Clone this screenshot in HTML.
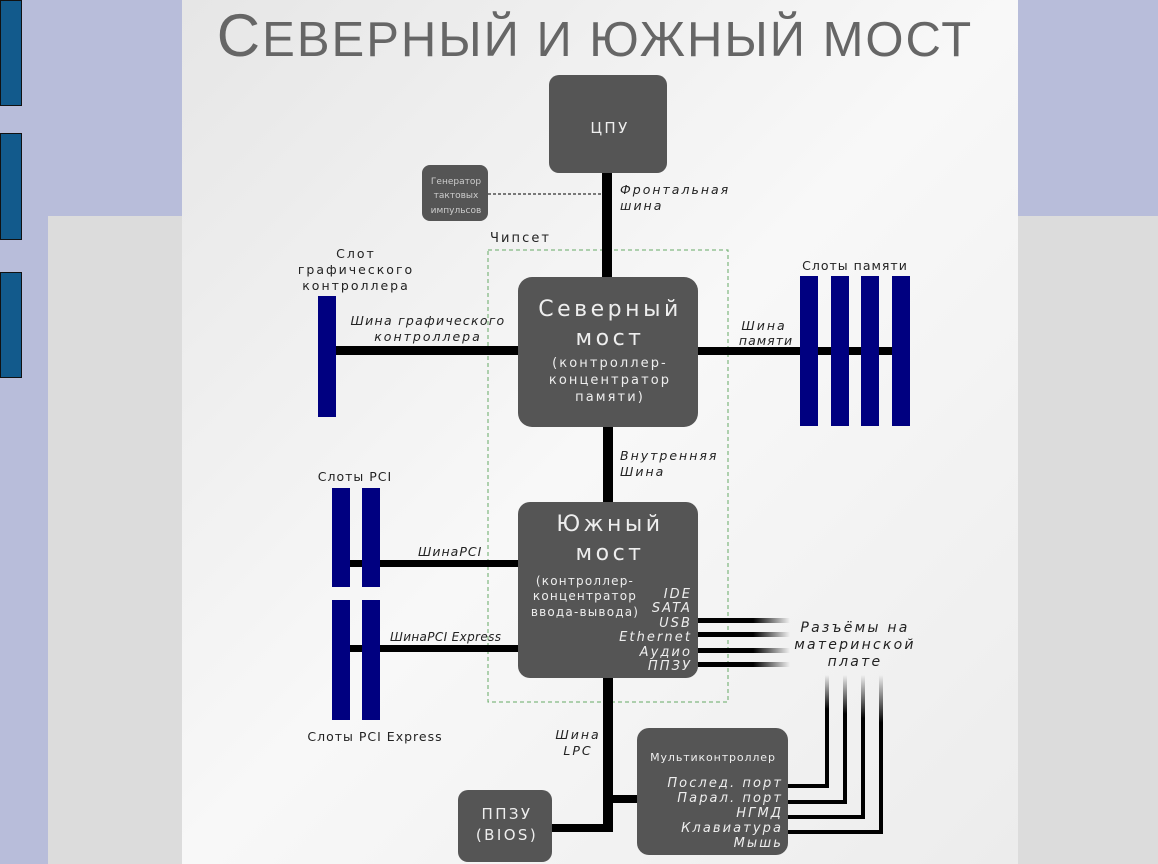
<!DOCTYPE html>
<html><head><meta charset="utf-8"><style>
html,body{margin:0;padding:0;width:1158px;height:864px;overflow:hidden;background:#b8bdda;}
svg{position:absolute;left:0;top:0}
text{font-family:"DejaVu Sans","Liberation Sans",sans-serif;letter-spacing:0.16em;}
</style></head><body>
<svg width="1158" height="864" viewBox="0 0 1158 864">
<defs>
<linearGradient id="bg" x1="0" y1="0" x2="1" y2="1">
<stop offset="0" stop-color="#e6e6e6"/><stop offset="0.5" stop-color="#f8f8f8"/><stop offset="1" stop-color="#ececec"/></linearGradient>
<linearGradient id="fr" x1="0" x2="1"><stop offset="0" stop-color="#000"/><stop offset="0.6" stop-color="#000"/><stop offset="1" stop-color="#000" stop-opacity="0"/></linearGradient>
<linearGradient id="fu" x1="0" y1="1" x2="0" y2="0"><stop offset="0" stop-color="#000"/><stop offset="0.7" stop-color="#000"/><stop offset="1" stop-color="#000" stop-opacity="0"/></linearGradient>
</defs>
<rect x="48" y="216" width="1110" height="648" fill="#dcdcdc"/>
<rect x="182" y="0" width="836" height="864" fill="url(#bg)"/>
<g fill="#125a8c" stroke="#111" stroke-width="1">
<rect x="0.5" y="0.5" width="21" height="105"/><rect x="0.5" y="133.5" width="21" height="106"/><rect x="0.5" y="272.5" width="21" height="105"/></g>
<text x="595" y="56" text-anchor="middle" style="font-family:'Liberation Sans',sans-serif;letter-spacing:2px" font-size="60" fill="#666">С<tspan font-size="49">ЕВЕРНЫЙ И ЮЖНЫЙ МОСТ</tspan></text>

<!-- green chipset -->
<rect x="488" y="250" width="240" height="452" fill="none" stroke="#6a6" stroke-width="1" stroke-dasharray="4,3"/>
<text x="490" y="242" font-size="13" fill="#222">Чипсет</text>

<!-- buses -->
<g fill="#000">
<rect x="602" y="173" width="10" height="104"/>
<rect x="603" y="427" width="10" height="75"/>
<rect x="603" y="678" width="10" height="154"/>
<rect x="552" y="824" width="61" height="8"/>
<rect x="613" y="795" width="26" height="8"/>
<rect x="336" y="346" width="182" height="9"/>
<rect x="698" y="347" width="212" height="8"/>
<rect x="336" y="560" width="182" height="7"/>
<rect x="336" y="645" width="182" height="7"/>
</g>
<line x1="488" y1="194" x2="602" y2="194" stroke="#000" stroke-dasharray="3,2"/>
<g fill="url(#fr)">
<rect x="698" y="618" width="92" height="5"/><rect x="698" y="632" width="92" height="5"/>
<rect x="698" y="648" width="92" height="5"/><rect x="698" y="662" width="92" height="5"/></g>
<g fill="url(#fu)">
<rect x="825" y="675" width="4" height="113"/><rect x="843" y="675" width="4" height="129"/>
<rect x="861" y="675" width="4" height="144"/><rect x="879" y="675" width="4" height="159"/></g>
<g fill="#000">
<rect x="788" y="784" width="41" height="4"/><rect x="788" y="800" width="59" height="4"/>
<rect x="788" y="815" width="77" height="4"/><rect x="788" y="830" width="95" height="4"/></g>

<!-- slots -->
<g fill="#000080">
<rect x="318" y="296" width="18" height="121"/>
<rect x="800" y="276" width="18" height="150"/><rect x="831" y="276" width="18" height="150"/>
<rect x="861" y="276" width="18" height="150"/><rect x="892" y="276" width="18" height="150"/>
<rect x="332" y="488" width="18" height="99"/><rect x="362" y="488" width="18" height="99"/>
<rect x="332" y="600" width="18" height="120"/><rect x="362" y="600" width="18" height="120"/>
</g>

<!-- boxes -->
<g fill="#555">
<rect x="549" y="75" width="118" height="98" rx="10"/>
<rect x="422" y="165" width="66" height="56" rx="8"/>
<rect x="518" y="277" width="180" height="150" rx="14"/>
<rect x="518" y="502" width="180" height="176" rx="12"/>
<rect x="458" y="790" width="94" height="72" rx="10"/>
<rect x="637" y="728" width="151" height="127" rx="12"/>
</g>
<g fill="#eee" text-anchor="middle">
<text x="610" y="133" font-size="15">ЦПУ</text>
<text x="456" y="184" font-size="9" fill="#ccc" style="letter-spacing:0">Генератор</text>
<text x="456" y="198" font-size="9" fill="#ccc" style="letter-spacing:0">тактовых</text>
<text x="456" y="213" font-size="9" fill="#ccc" style="letter-spacing:0">импульсов</text>
<text x="610" y="316" font-size="22">Северный</text>
<text x="610" y="345" font-size="22">мост</text>
<text x="610" y="367" font-size="13">(контроллер-</text>
<text x="610" y="384" font-size="13">концентратор</text>
<text x="610" y="401" font-size="13">памяти)</text>
<text x="610" y="531" font-size="22">Южный</text>
<text x="610" y="560" font-size="22">мост</text>
<text x="585" y="585" font-size="12" style="letter-spacing:0.1em">(контроллер-</text>
<text x="585" y="600" font-size="12" style="letter-spacing:0.1em">концентратор</text>
<text x="585" y="616" font-size="12" style="letter-spacing:0.1em">ввода-вывода)</text>
<text x="507" y="819" font-size="15">ППЗУ</text>
<text x="507" y="840" font-size="15">(BIOS)</text>
<text x="713" y="761" font-size="11" style="letter-spacing:0.08em">Мультиконтроллер</text>
</g>
<g fill="#eee" text-anchor="end" font-style="italic" font-size="13" style="letter-spacing:0.08em">
<text x="692" y="598">IDE</text><text x="692" y="612">SATA</text><text x="692" y="627">USB</text>
<text x="692" y="641">Ethernet</text><text x="692" y="656">Аудио</text><text x="692" y="670">ППЗУ</text>
<text x="783" y="787">Послед. порт</text><text x="783" y="802">Парал. порт</text><text x="783" y="817">НГМД</text>
<text x="783" y="832">Клавиатура</text><text x="783" y="847">Мышь</text>
</g>

<!-- labels -->
<g fill="#222" font-size="12.5">
<g font-style="italic">
<text x="620" y="194">Фронтальная</text><text x="620" y="210">шина</text>
<text x="620" y="460">Внутренняя</text><text x="620" y="476">Шина</text>
<text x="418" y="556" style="letter-spacing:0.08em">ШинаPCI</text>
<text x="390" y="641" font-size="12" style="letter-spacing:0.03em">ШинаPCI Express</text>
</g>
<g text-anchor="middle">
<text x="356" y="258">Слот</text><text x="356" y="274">графического</text><text x="356" y="290">контроллера</text>
<text x="855" y="270" style="letter-spacing:0.08em">Слоты памяти</text>
<text x="355" y="481" style="letter-spacing:0.08em">Слоты PCI</text>
<text x="375" y="741" style="letter-spacing:0.08em">Слоты PCI Express</text>
<g font-style="italic">
<text x="428" y="325" style="letter-spacing:0.1em">Шина графического</text><text x="428" y="341">контроллера</text>
<text x="764" y="330">Шина</text><text x="766" y="345" style="letter-spacing:0.08em">памяти</text>
<text x="855" y="632" font-size="14">Разъёмы на</text><text x="855" y="649" font-size="14">материнской</text><text x="855" y="666" font-size="14">плате</text>
<text x="578" y="739">Шина</text><text x="578" y="755">LPC</text>
</g></g></g>
</svg>
</body></html>
